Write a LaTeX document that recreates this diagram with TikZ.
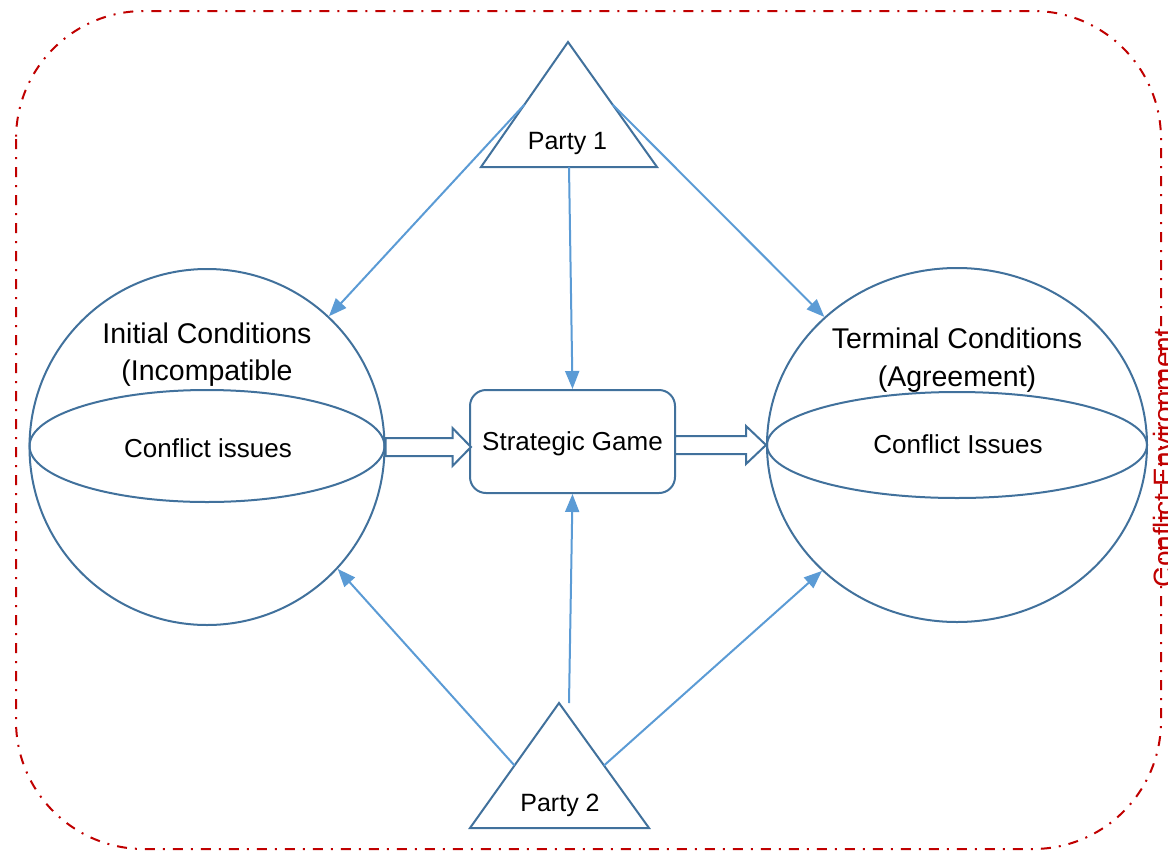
\documentclass[tikz,border=0pt]{standalone}
\usepackage{fontspec}
\setmainfont{Liberation Sans}
\usetikzlibrary{shapes.geometric,arrows.meta,calc}
\definecolor{outl}{HTML}{41719C}
\definecolor{arr}{HTML}{5B9BD5}
\definecolor{frm}{HTML}{C00000}
\begin{document}
\begin{tikzpicture}[x=1pt,y=-1pt,
  outline/.style={draw=outl, line width=2pt},
  ball/.style={outline, ellipse, inner sep=0pt},
  conn/.style={draw=arr, line width=2pt, -{Triangle[length=18pt,width=14pt]}},
  blockarr/.style={outline, fill=white, line join=miter},
  bigtxt/.style={font=\fontsize{28.5}{34}\selectfont, anchor=base, inner sep=0pt},
  smalltxt/.style={font=\fontsize{26}{31}\selectfont, anchor=base, inner sep=0pt},
]
\useasboundingbox (0,0) rectangle (1168,852);
% frame
\draw[frm, line width=2pt, dash pattern=on 10pt off 8pt on 2pt off 8pt, rounded corners=128pt] (16,11) rectangle (1161,849);
\node[rotate=90, anchor=base, text=frm, font=\fontsize{28}{34}\selectfont, inner sep=0pt] (env) at (1173,458) {Conflict Environment};

% spheres
\node[ball, minimum width=355pt, minimum height=356pt] (lc) at (207,447) {};
\node[ball, minimum width=355pt, minimum height=112pt] (li) at (207,446) {};
\node[ball, minimum width=380pt, minimum height=354pt] (rc) at (957,445) {};
\node[ball, minimum width=380pt, minimum height=106pt] (ri) at (957,445) {};

\node[bigtxt] (lt1) at (207,343) {Initial Conditions};
\node[bigtxt] (lt2) at (207,380) {(Incompatible};
\node[smalltxt] (lis) at (208,457) {Conflict issues};
\node[bigtxt] (rt1) at (957,348) {Terminal Conditions};
\node[bigtxt] (rt2) at (957,386) {(Agreement)};
\node[smalltxt] (ris) at (958,453) {Conflict Issues};

% strategic game
\node[outline, rounded corners=16pt, minimum width=205pt, minimum height=103pt, inner sep=0pt] (sg) at (572.5,441.5) {};
\node[smalltxt] (sgt) at (572.5,450) {Strategic Game};

% parties
\coordinate (p1a) at (568,42);
\coordinate (p1l) at (481,167);
\coordinate (p1r) at (657,167);
\coordinate (p2a) at (559,703);
\coordinate (p2l) at (470,828);
\coordinate (p2r) at (649,828);
\draw[outline, line join=miter] (p1a) -- (p1r) -- (p1l) -- cycle;
\draw[outline, line join=miter] (p2a) -- (p2r) -- (p2l) -- cycle;
\node[smalltxt, font=\fontsize{25}{30}\selectfont] (p1t) at (567.5,149) {Party 1};
\node[smalltxt, font=\fontsize{25}{30}\selectfont] (p2t) at (560,811) {Party 2};

% connectors
\draw[conn] ($(p1a)!0.5!(p1l)$) -- (lc.47);
\draw[conn] ($(p1a)!0.5!(p1r)$) -- (rc.136.7);
\draw[conn] ($(p1l)!0.5!(p1r)$) -- (sg.north);
\draw[conn] ([xshift=10pt]p2a) -- (sg.south);
\draw[conn] ($(p2a)!0.5!(p2l)$) -- (lc.-43.8);
\draw[conn] ($(p2a)!0.5!(p2r)$) -- (rc.223.3);

% block arrows
\draw[blockarr] ($(lc.east)+(0,-9)$) -- ++(67,0) -- ++(0,-10) -- ++(18.5,19) -- ++(-18.5,19) -- ++(0,-10) -- ++(-67,0) -- cycle;
\draw[blockarr] (rc.west) -- ++(-20,-19) -- ++(0,10) -- ++(-71,0) -- ++(0,18) -- ++(71,0) -- ++(0,10) -- cycle;
\end{tikzpicture}
\end{document}
